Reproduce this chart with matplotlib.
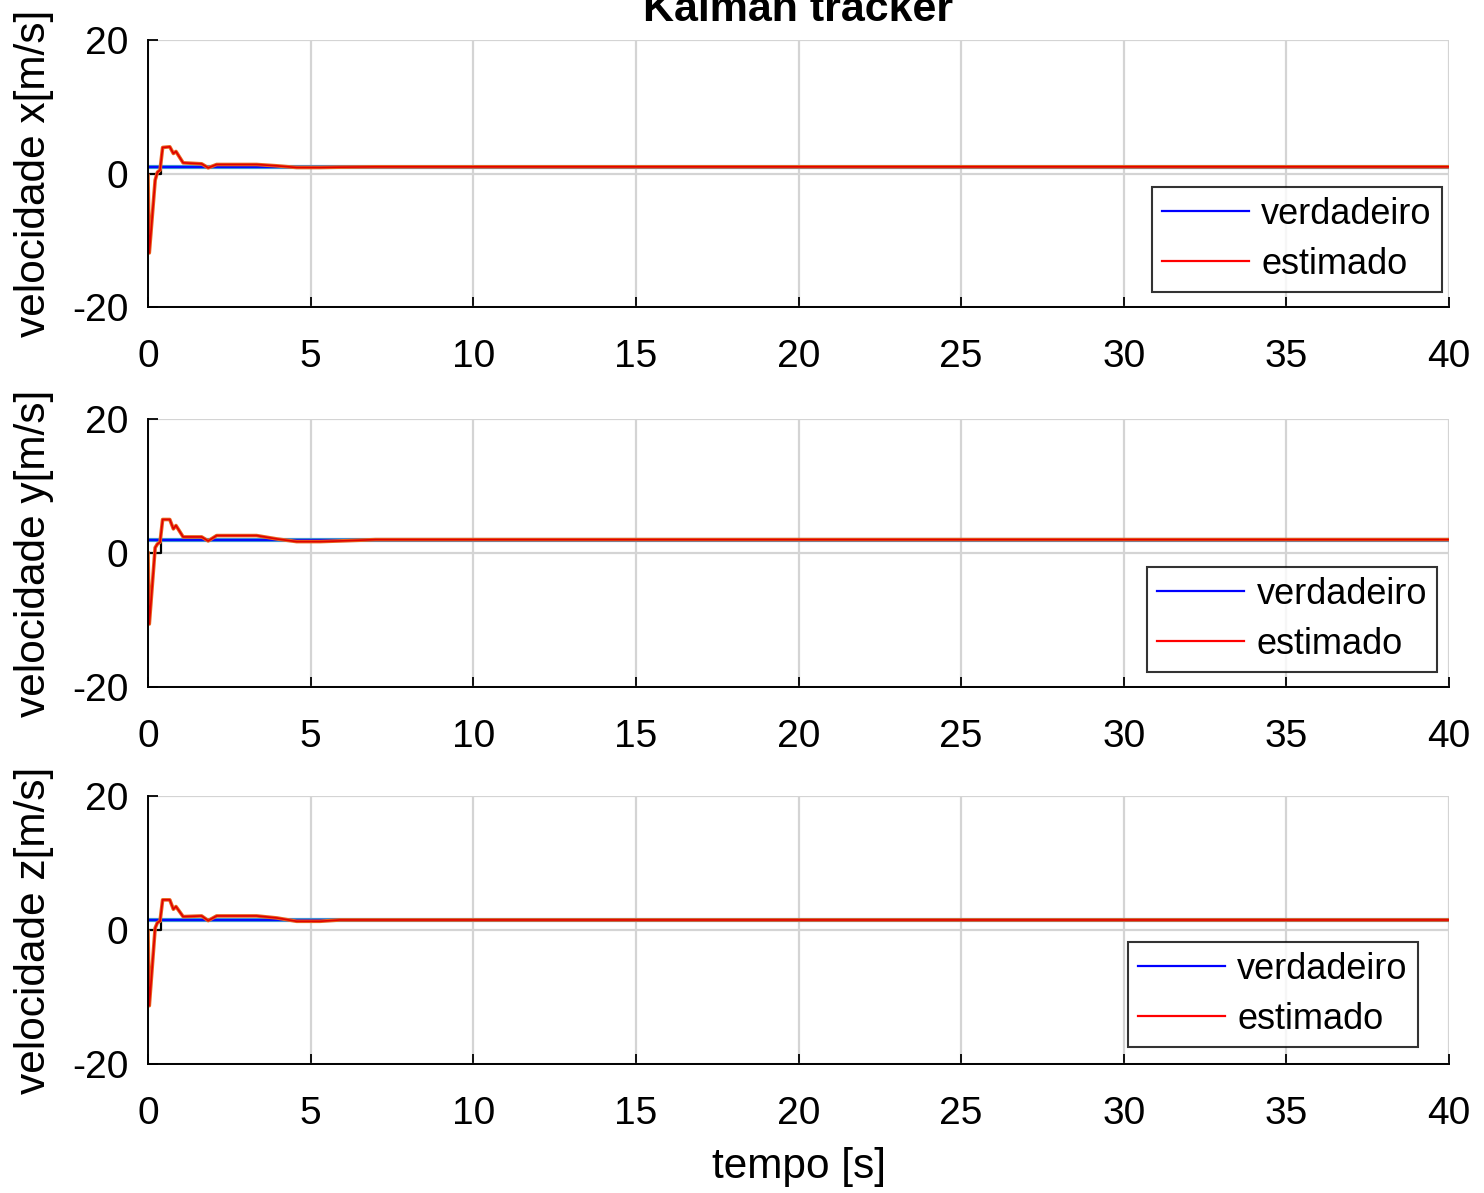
import numpy as np
import matplotlib
matplotlib.use("Agg")
import matplotlib.pyplot as plt
from matplotlib.lines import Line2D

plt.rcParams['font.family'] = ['Liberation Sans', 'DejaVu Sans']
plt.rcParams['axes.unicode_minus'] = False

# Simulation span and true constant velocities
t_end = 40.0
true_vel = [1.0, 2.0, 1.5]
step_time = 0.4  # reference signal switches on here

# Kalman estimate breakpoints (time [s], velocity [m/s]) for each axis
est_t = [0.0, 0.04, 0.22, 0.29, 0.37, 0.45, 0.67, 0.78, 0.86, 1.08, 1.65,
         1.85, 2.11, 3.34, 3.96, 4.57, 5.29, 5.9, 7.0, 40.0]
est_vx = [-0.3, -11.9, -1.0, 0.2, 0.5, 3.9, 4.0, 3.0, 3.3, 1.6, 1.45,
          0.85, 1.35, 1.35, 1.15, 0.9, 0.9, 0.95, 1.0, 1.0]
est_vy = [0.0, -10.6, 0.8, 1.35, 1.6, 5.0, 5.0, 3.6, 4.1, 2.4, 2.4,
          1.8, 2.6, 2.6, 2.1, 1.7, 1.7, 1.8, 2.0, 2.0]
est_vz = [-0.2, -11.3, 0.3, 1.1, 1.3, 4.5, 4.5, 3.1, 3.5, 2.0, 2.1,
          1.4, 2.1, 2.1, 1.8, 1.3, 1.3, 1.5, 1.5, 1.5]

y_labels = ['velocidade x[m/s]', 'velocidade y[m/s]', 'velocidade z[m/s]']
x_ticks = [0, 5, 10, 15, 20, 25, 30, 35, 40]
y_ticks = [-20, 0, 20]
legend_labels = ['verdadeiro', 'estimado']

W, H = 1484, 1193
fig = plt.figure(figsize=(W / 100, H / 100), dpi=100)

left_px, right_px = 148, 1449
panels_px = [(40, 307), (419, 687), (796, 1064)]
legend_anchor = [(0.9946, 0.056), (0.9908, 0.056), (0.976, 0.063)]
estimates = [est_vx, est_vy, est_vz]

axes = []
for i, (top, bot) in enumerate(panels_px):
    ax = fig.add_axes([left_px / W, 1 - bot / H, (right_px - left_px) / W, (bot - top) / H])
    axes.append(ax)
    v_true = true_vel[i]

    # reference signal before switch-on
    ax.plot([0, step_time, step_time, t_end], [0, 0, v_true, v_true],
            color='black', lw=1.6, zorder=2)
    # true velocity
    ax.plot([0, t_end], [v_true, v_true], color='#3c8fd6', lw=3.0, zorder=3)
    ax.plot([0, t_end], [v_true, v_true], color='blue', lw=1.3, zorder=3.1)
    # estimated velocity
    ax.plot(est_t, estimates[i], color='#E8651F', lw=2.6, zorder=4)
    ax.plot(est_t, estimates[i], color='#e00000', lw=1.2, zorder=4.1)

    ax.set_xlim(0, t_end)
    ax.set_ylim(-20, 20)
    ax.set_xticks(x_ticks)
    ax.set_yticks(y_ticks)
    ax.grid(True, color='#d4d4d4', lw=1.6)
    ax.set_axisbelow(True)
    for s in ['top', 'right']:
        ax.spines[s].set_visible(False)
    for s in ['left', 'bottom']:
        ax.spines[s].set_linewidth(1.4)
        ax.spines[s].set_zorder(5)
    ax.tick_params(direction='in', length=7, width=1.3, labelsize=28,
                   top=False, right=False)
    ax.tick_params(axis='x', pad=23)
    ax.tick_params(axis='y', pad=14)
    ax.set_ylabel(y_labels[i], fontsize=30.5)
    ax.yaxis.set_label_coords(-0.072, 0.5)

    handles = [Line2D([], [], color='blue', lw=1.6),
               Line2D([], [], color='red', lw=1.6)]
    leg = ax.legend(handles, legend_labels, loc='lower right',
                    bbox_to_anchor=legend_anchor[i], fontsize=26,
                    frameon=True, fancybox=False, handlelength=2.4,
                    handletextpad=0.35, borderpad=0.28, labelspacing=0.42,
                    borderaxespad=0.0)
    leg.get_frame().set_edgecolor('black')
    leg.get_frame().set_linewidth(1.5)

axes[-1].set_xlabel('tempo [s]', fontsize=30.5)
axes[-1].xaxis.set_label_coords(0.5, -0.31)

fig.text(798 / W, 1 - 21 / H, 'Kalman tracker', ha='center', va='baseline',
         fontsize=31, fontweight='bold')

fig.savefig('out.png', dpi=100, facecolor='white')
